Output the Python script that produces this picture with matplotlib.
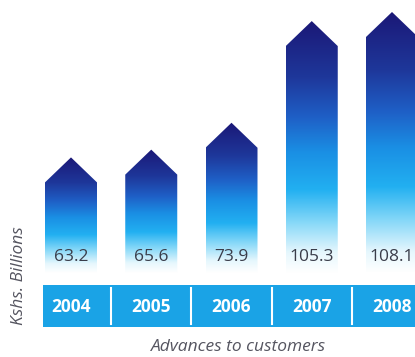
import matplotlib
matplotlib.use("Agg")
import matplotlib.pyplot as plt
import numpy as np
from matplotlib.colors import LinearSegmentedColormap
from matplotlib.patches import Polygon

years = ["2004", "2005", "2006", "2007", "2008"]
values = [63.2, 65.6, 73.9, 105.3, 108.1]
value_labels = ["63.2", "65.6", "73.9", "105.3", "108.1"]
ylabel = "Kshs. Billions"
title = "Advances to customers"

W, H = 415, 357
fig = plt.figure(figsize=(W / 100, H / 100), dpi=100)

def fx(px):
    return px / W

def fy(py):
    return 1 - py / H

# x mapping: bar i centre at 71 + 80.25*i pixels
x0 = (0 - 71) / 80.25
x1 = (W - 71) / 80.25
bar_w = 52 / 80.25

top_px, bot_px = 0, 273
ax = fig.add_axes([0, fy(bot_px), 1, (bot_px - top_px) / H])
ybase = 27.5
k = 261 / (values[-1] - ybase)
ytop = ybase + (bot_px - top_px) / k
ax.set_xlim(x0, x1)
ax.set_ylim(ybase, ytop)
ax.axis("off")

cmap = LinearSegmentedColormap.from_list(
    "arrow",
    [(0.0, "#ffffff"), (0.08, "#e6f7fd"), (0.2, "#86d8f8"), (0.33, "#22b0f1"),
     (0.48, "#1a8fe4"), (0.62, "#1f5fc6"), (0.78, "#1e379a"), (1.0, "#1b1877")])
head = 25 / k
grad = np.linspace(0, 1, 256).reshape(-1, 1)
for i, v in enumerate(values):
    l, r = i - bar_w / 2, i + bar_w / 2
    poly = Polygon([(l, ybase), (r, ybase), (r, v - head), (i, v), (l, v - head)],
                   closed=True, facecolor="none", edgecolor="none")
    ax.add_patch(poly)
    im = ax.imshow(grad, extent=[l, r, ybase, v], origin="lower", cmap=cmap,
                   aspect="auto", interpolation="bilinear", zorder=2)
    im.set_clip_path(poly)
    ax.text(i, ybase + (bot_px - 257) / k, value_labels[i], ha="center", va="center",
            fontsize=12.5, color="#3a3d4a", family="Open Sans", zorder=3)

band_top, band_bot = 285, 327
bx = fig.add_axes([fx(43), fy(band_bot), 1 - fx(43), (band_bot - band_top) / H])
bx.set_xlim((43 - 71) / 80.25, x1)
bx.set_ylim(0, 1)
bx.set_facecolor("#1aa3e6")
for s in bx.spines.values():
    s.set_visible(False)
bx.set_xticks([])
bx.set_yticks([])
for i, y in enumerate(years):
    bx.text(i, 0.47, y, ha="center", va="center", color="white", fontsize=12.5,
            fontweight="bold", family="Open Sans")
    if i < len(years) - 1:
        bx.plot([i + 0.5, i + 0.5], [0.08, 0.92], color="white", lw=1.5)

fig.text(fx(19), fy(276), ylabel, rotation=90, ha="center", va="center",
         fontsize=12.5, style="italic", color="#555560", family="Open Sans")
fig.text(fx(239), fy(347), title, ha="center", va="center",
         fontsize=12.5, style="italic", color="#555560", family="Open Sans")

fig.savefig("out.png", dpi=100, facecolor="white")
